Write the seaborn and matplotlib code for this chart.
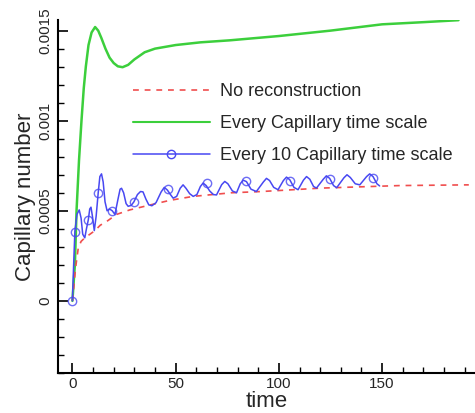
import matplotlib
matplotlib.use('Agg')

import numpy as np
import pandas as pd
import matplotlib.pyplot as plt
import seaborn as sns
from matplotlib.lines import Line2D
from matplotlib.ticker import MultipleLocator

sns.set_style("ticks")
plt.rcParams['font.family'] = ['Liberation Sans', 'DejaVu Sans']

# No reconstruction
t_none = [0, 0.7, 1.5, 2.8, 4.2, 6, 8.5, 10.9, 13.5, 16.5, 21.4, 27.8, 37.5,
          47.2, 58.5, 77, 91.6, 120.6, 158.5, 192]
ca_none = [0, 0.00008, 0.00018, 0.00029, 0.00033, 0.00035, 0.00037, 0.00039,
           0.00042, 0.00044, 0.00048, 0.000505, 0.000532, 0.000558, 0.00058,
           0.0006, 0.000607, 0.000626, 0.00064, 0.000644]

# Every Capillary time scale
t_every = [0, 1.2, 2, 3.2, 4.4, 5.5, 6.5, 7.8, 9.3, 11, 12.5, 14, 16, 18, 20,
           22, 24.3, 27, 30, 35, 40, 50, 62, 76, 100, 125, 150, 170, 187]
ca_every = [0, 0.0002, 0.0005, 0.00078, 0.001, 0.00118, 0.0013, 0.00142,
            0.00149, 0.00152, 0.0015, 0.00146, 0.0014, 0.00135, 0.00132,
            0.001302, 0.001297, 0.00131, 0.00134, 0.00138, 0.0014, 0.00142,
            0.001435, 0.001446, 0.00147, 0.0015, 0.001535, 0.001547, 0.001558]

# Every 10 Capillary time scale
t_ten = [0, 0.6, 1.2, 2.2, 3.3, 4.2, 5, 6, 6.8, 7.7, 8.4, 9, 9.7, 10.6, 11.5,
         12.5, 13.3, 14.1, 14.9, 15.8, 16.8, 18, 19.3, 20.6, 22, 23.1, 23.8,
         24.8, 26, 27, 28.5, 29.8, 31.5, 33, 34.2, 35.6, 37, 38.5, 40.5, 43,
         44.5, 46, 47.5, 48.8, 50.5, 52.2, 53.6, 55, 56.8, 58.5, 60.3, 62,
         63.3, 64.8, 66.5, 68.3, 69.8, 72.3, 73.8, 75.3, 77.5, 79.5, 81.3,
         82.7, 84.3, 86.5, 89.1, 92.5, 94, 95.5, 97.5, 99.6, 102.2, 103.7,
         105.3, 107.3, 109.3, 111.9, 113.4, 115, 116.8, 118.2, 121.5, 123,
         124.6, 126.5, 128, 131.5, 133, 134.6, 137, 139.2, 142.5, 144, 145.6,
         147.5, 148.8]
ca_ten = [0, 0.0002, 0.000385, 0.00048, 0.000505, 0.00046, 0.00037, 0.00035,
          0.0004, 0.00045, 0.00051, 0.00052, 0.00047, 0.00039, 0.00047, 0.0006,
          0.00069, 0.000705, 0.00066, 0.00055, 0.0005, 0.00051, 0.0005,
          0.00048, 0.00056, 0.00062, 0.000625, 0.0006, 0.00054, 0.000525,
          0.00053, 0.00055, 0.00059, 0.000607, 0.000605, 0.000565, 0.000533,
          0.000528, 0.000545, 0.000605, 0.00063, 0.000615, 0.00059, 0.00057,
          0.00058, 0.000625, 0.000644, 0.000625, 0.000595, 0.00058, 0.00059,
          0.000635, 0.000654, 0.00064, 0.00061, 0.00059, 0.000588, 0.000645,
          0.000663, 0.00065, 0.00061, 0.0006, 0.00065, 0.00067, 0.000662,
          0.00062, 0.000607, 0.00066, 0.00068, 0.000668, 0.00063, 0.000617,
          0.000668, 0.000687, 0.000672, 0.00063, 0.000617, 0.00067, 0.00069,
          0.000675, 0.000635, 0.000626, 0.000675, 0.000694, 0.00068, 0.00064,
          0.000628, 0.000683, 0.0007, 0.000685, 0.00065, 0.000644, 0.00069,
          0.000705, 0.00069, 0.00065, 0.000638]

# circle symbols on the blue curve
t_mark = [0, 1.2, 7.7, 12.5, 19.3, 29.8, 46.4, 65.3, 84.3, 105.3, 124.6, 145.6]
ca_mark = [0, 0.000385, 0.00045, 0.0006, 0.0005, 0.00055, 0.00062, 0.000655,
           0.000665, 0.000668, 0.000675, 0.00068]

labels = ['No reconstruction', 'Every Capillary time scale',
          'Every 10 Capillary time scale']

c_red = '#f04e4e'
c_green = '#3ccf3c'
c_blue = '#4848f2'

fig = plt.figure(figsize=(4.75, 4.13), dpi=100)
ax = fig.add_axes([0.122, 0.097, 0.878, 0.855])

sns.lineplot(x=t_every, y=ca_every, ax=ax, color=c_green, lw=1.8, sort=False)
sns.lineplot(x=t_none, y=ca_none, ax=ax, color=c_red, lw=1.2, sort=False)
ax.lines[-1].set_dashes([3.5, 3.5])
sns.lineplot(x=t_ten, y=ca_ten, ax=ax, color=c_blue, lw=1.1, sort=False)
ax.plot(t_mark, ca_mark, ls='none', marker='o', ms=6, mfc='none',
        mec=c_blue, mew=1, alpha=0.8)

ax.set_xlim(-7, 195)
ax.set_ylim(-0.0004, 0.00156)
ax.xaxis.set_major_locator(MultipleLocator(50))
ax.xaxis.set_minor_locator(MultipleLocator(10))
ax.yaxis.set_minor_locator(MultipleLocator(0.0001))
ax.set_yticks([0, 0.0005, 0.001, 0.0015])
ax.set_yticklabels(['0', '0.0005', '0.001', '0.0015'], rotation=90, va='center')

ax.tick_params(which='both', direction='in', color='black', labelsize=11)
ax.tick_params(which='major', length=7, width=1.2)
ax.tick_params(which='minor', length=4, width=1)
ax.tick_params(axis='x', pad=3)
ax.tick_params(axis='y', pad=4)

sns.despine(ax=ax)
for s in ['left', 'bottom']:
    ax.spines[s].set_linewidth(1.5)
    ax.spines[s].set_color('black')

ax.set_xlabel('time', fontsize=16, labelpad=0)
ax.set_ylabel('Capillary number', fontsize=16, labelpad=2)

handles = [
    Line2D([], [], color=c_red, lw=1.2, dashes=[3.5, 3.5]),
    Line2D([], [], color=c_green, lw=1.5),
    Line2D([], [], color=c_blue, lw=1.1, marker='o', ms=6, mfc='none', mew=1),
]
ax.legend(handles, labels, loc='upper left', bbox_to_anchor=(0.179, 0.821),
          frameon=False, fontsize=13, handlelength=4.3, handletextpad=0.55,
          labelspacing=0.83, borderpad=0, borderaxespad=0)

fig.savefig('out.png', dpi=100)
